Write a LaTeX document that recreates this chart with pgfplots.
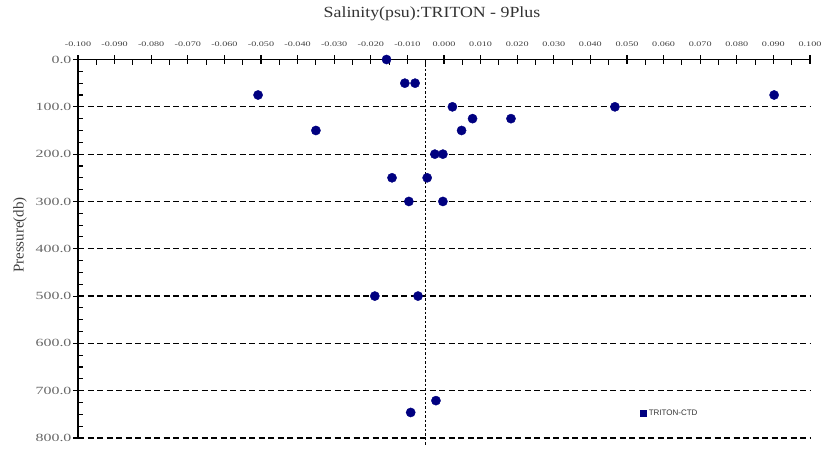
\documentclass[border=0pt]{standalone}
\usepackage{fontspec}
\setmainfont{Liberation Serif}
\newfontfamily\tickfont[FakeStretch=1.45]{Liberation Serif}
\newfontfamily\titlefont[FakeStretch=1.15]{Liberation Serif}
\newfontfamily\legfont{Liberation Sans}
\usepackage{pgfplots}
\pgfplotsset{compat=1.18}
\definecolor{navy}{RGB}{0,0,128}
\begin{document}
\begin{tikzpicture}[x=1pt,y=1pt]
\path[use as bounding box] (0,0) rectangle (823,448);
\begin{axis}[
  at={(78pt,10pt)}, anchor=south west,
  scale only axis, width=732pt, height=378.5pt,
  xmin=-0.1, xmax=0.1, ymin=0, ymax=800,
  y dir=reverse,
  axis x line=top, axis y line=left,
  axis line style={line width=1.2pt, -},
  xtick={-0.1,-0.09,-0.08,-0.07,-0.06,-0.05,-0.04,-0.03,-0.02,-0.01,0,0.01,0.02,0.03,0.04,0.05,0.06,0.07,0.08,0.09,0.1},
  xticklabels={-0.100,-0.090,-0.080,-0.070,-0.060,-0.050,-0.040,-0.030,-0.020,-0.010,0.000,0.010,0.020,0.030,0.040,0.050,0.060,0.070,0.080,0.090,0.100},
  minor x tick num=1,
  ytick={0,100,200,300,400,500,600,700,800},
  yticklabels={0.0,100.0,200.0,300.0,400.0,500.0,600.0,700.0,800.0},
  minor y tick num=3,
  tick align=inside,
  major tick length=9pt, minor tick length=5pt,
  tick style={line width=1.1pt, black},
  major x tick style={yshift=4.5pt},
  major y tick style={xshift=-4.5pt},
  x tick label style={font=\tickfont\fontsize{7}{8}\selectfont, text=black!75, yshift=9pt},
  y tick label style={font=\tickfont\fontsize{11}{12}\selectfont, text=black!60, xshift=-3pt},
  ymajorgrids,
  major grid style={black, line width=1.2pt, dash pattern=on 6pt off 3.5pt},
  clip=false,
  legend style={draw=none, fill=none, at={(0.768,0.066)}, anchor=west, inner sep=0pt,
    font=\legfont\fontsize{8}{9}\selectfont, text=black!80},
  legend image code/.code={\fill[navy] (0pt,-3pt) rectangle (6pt,3pt);},
  legend cell align=left,
]
\addplot[black, line width=1.4pt, dash pattern=on 2.5pt off 2pt, forget plot] coordinates {(-0.005,0) (-0.005,815)};
\addplot[only marks, mark=*, mark size=4.6pt, mark options={fill=navy, draw=navy}] coordinates {
(-0.0157,0)
(-0.0107,50) (-0.0079,50)
(-0.0508,75) (0.0902,75)
(0.0023,100) (0.0467,100)
(0.0078,125) (0.0183,125)
(-0.035,150) (0.0048,150)
(-0.0025,200) (-0.0003,200)
(-0.0142,250) (-0.0046,250)
(-0.0096,300) (-0.0003,300)
(-0.0189,500) (-0.0071,500)
(-0.0022,721) (-0.0091,746)
};
\addlegendentry{TRITON-CTD}
\end{axis}
\node[font=\titlefont\fontsize{15.5}{18}\selectfont, text=black!80] at (432,434) {Salinity(psu):TRITON - 9Plus};
\node[rotate=90, font=\fontsize{15}{17}\selectfont, text=black!75] at (20,213) {Pressure(db)};
\end{tikzpicture}
\end{document}
